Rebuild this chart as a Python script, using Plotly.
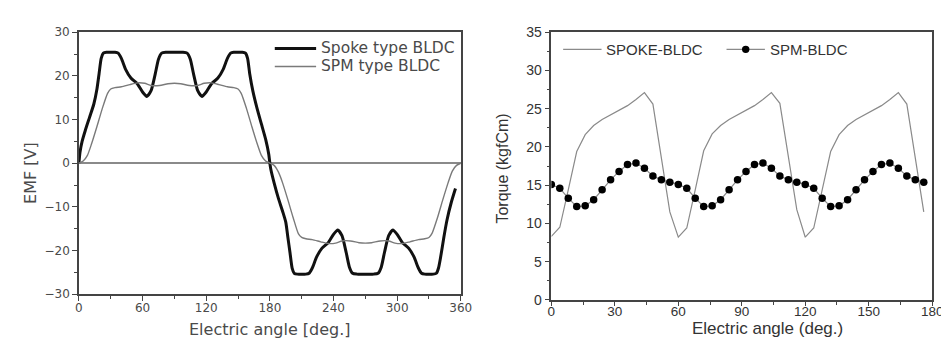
import plotly.graph_objects as go

# ---------------- Left chart: back EMF ----------------
spoke_angle = [0, 1, 3, 6, 10, 14, 17, 19, 21, 23, 26, 30, 34, 37, 40, 44, 49, 55, 60, 64,
               68, 72, 75, 78, 82, 86, 90, 94, 98, 102, 105, 108, 112, 116, 120, 125, 131,
               136, 140, 143, 146, 150, 154, 157, 159, 161, 164, 168, 172, 176, 179, 180,
               181, 184, 188, 192, 195, 197, 199, 201, 203, 206, 210, 214, 217, 220, 224,
               229, 235, 240, 244, 248, 252, 255, 258, 262, 266, 270, 274, 278, 282, 285,
               288, 292, 296, 300, 305, 311, 316, 320, 323, 326, 330, 334, 337, 339, 341,
               344, 347, 351, 355]
spoke_emf = [0, 2.5, 5.0, 7.5, 10.5, 13.5, 17.0, 20.5, 24.0, 25.2, 25.4, 25.4, 25.4, 25.2,
             24.0, 21.5, 19.5, 18.2, 16.3, 15.3, 16.6, 20.5, 23.8, 25.2, 25.4, 25.4, 25.4,
             25.4, 25.4, 25.2, 23.8, 20.5, 16.6, 15.3, 16.3, 18.2, 19.5, 21.5, 24.0, 25.2,
             25.4, 25.4, 25.4, 25.2, 24.0, 20.5, 16.5, 12.5, 9.0, 5.5, 2.0, 0,
             -1.5, -4.5, -8.0, -11.0, -13.5, -17.0, -20.5, -24.0, -25.2, -25.4, -25.4,
             -25.4, -25.2, -24.0, -21.5, -19.5, -18.2, -16.3, -15.3, -16.6, -20.5, -23.8,
             -25.2, -25.4, -25.4, -25.4, -25.4, -25.4, -25.2, -23.8, -20.5, -16.6, -15.3,
             -16.3, -18.2, -19.5, -21.5, -24.0, -25.2, -25.4, -25.4, -25.4, -25.2, -24.0,
             -21.5, -17.0, -13.0, -9.0, -5.8]

spm_angle = [0, 4, 8, 12, 17, 22, 27, 30, 34, 40, 48, 55, 62, 68, 76, 84, 90, 96, 104, 112,
             118, 125, 132, 140, 146, 150, 153, 158, 163, 168, 172, 176, 180,
             184, 188, 192, 197, 202, 207, 210, 214, 220, 228, 235, 242, 248, 256, 264,
             270, 276, 284, 292, 298, 305, 312, 320, 326, 330, 333, 338, 343, 348, 352,
             356, 360]
spm_emf = [0, 0.5, 1.8, 4.5, 8.4, 12.5, 16.0, 17.0, 17.3, 17.5, 18.0, 18.4, 18.3, 17.8,
           17.8, 18.2, 18.3, 18.2, 17.8, 17.8, 18.3, 18.4, 18.0, 17.5, 17.3, 17.0, 16.0,
           12.5, 8.4, 4.5, 1.8, 0.5, 0,
           -0.5, -2.0, -4.5, -8.4, -12.5, -16.2, -17.0, -17.3, -17.5, -18.0, -18.4, -18.3,
           -17.8, -17.8, -18.2, -18.3, -18.2, -17.8, -17.8, -18.3, -18.4, -18.0, -17.5,
           -17.3, -17.0, -16.0, -12.5, -8.4, -4.5, -1.8, -0.5, 0]

# ---------------- Right chart: torque ----------------
torque_angle = [0, 4, 8, 12, 16, 20, 24, 28, 32, 36, 40, 44, 48, 52, 56,
                60, 64, 68, 72, 76, 80, 84, 88, 92, 96, 100, 104, 108, 112, 116,
                120, 124, 128, 132, 136, 140, 144, 148, 152, 156, 160, 164, 168, 172, 176]
spoke_torque = [8.3, 9.5, 14.4, 19.4, 21.6, 22.8, 23.6, 24.2, 24.8, 25.4, 26.2, 27.1, 25.6, 18.5, 11.5,
                8.2, 9.4, 14.4, 19.5, 21.7, 22.8, 23.6, 24.2, 24.8, 25.4, 26.2, 27.1, 25.7, 18.6, 11.8,
                8.2, 9.4, 14.4, 19.4, 21.6, 22.8, 23.6, 24.2, 24.8, 25.4, 26.2, 27.1, 25.6, 18.5, 11.5]
spm_torque = [15.1, 14.6, 13.3, 12.2, 12.3, 13.1, 14.4, 15.7, 16.8, 17.7, 17.9, 17.2, 16.2, 15.7, 15.4,
              15.1, 14.6, 13.3, 12.2, 12.3, 13.1, 14.4, 15.7, 16.8, 17.7, 17.9, 17.2, 16.2, 15.7, 15.4,
              15.1, 14.6, 13.3, 12.2, 12.3, 13.1, 14.4, 15.7, 16.8, 17.7, 17.9, 17.2, 16.2, 15.7, 15.4]

series_names = ["Spoke type BLDC", "SPM type BLDC", "SPOKE-BLDC", "SPM-BLDC"]

FONT_L = "DejaVu Sans, sans-serif"
FONT_R = "Liberation Sans, Arial, sans-serif"
TXT_L = "#4a4a4a"
TXT_R = "#333333"
AX = "#444444"
W, H = 949, 339

SPOKE_L = dict(color="#111111", width=3)
SPM_L = dict(color="#7a7a7a", width=1.4)
SPOKE_R = dict(color="#8a8a8a", width=1.2)
SPM_R = dict(color="#8a8a8a", width=1.2)


def px_x(p):
    return p / W


def px_y(p):
    return 1 - p / H


fig = go.Figure()
fig.add_trace(go.Scatter(x=spoke_angle, y=spoke_emf, mode="lines", name=series_names[0],
                         line=dict(**SPOKE_L, shape="spline", smoothing=0.6),
                         xaxis="x", yaxis="y"))
fig.add_trace(go.Scatter(x=spm_angle, y=spm_emf, mode="lines", name=series_names[1],
                         line=dict(**SPM_L, shape="spline", smoothing=0.6),
                         xaxis="x", yaxis="y"))
fig.add_trace(go.Scatter(x=torque_angle, y=spoke_torque, mode="lines", name=series_names[2],
                         line=SPOKE_R, xaxis="x2", yaxis="y2"))
fig.add_trace(go.Scatter(x=torque_angle, y=spm_torque, mode="lines+markers", name=series_names[3],
                         line=SPM_R, marker=dict(color="#000000", size=7.5),
                         xaxis="x2", yaxis="y2"))


def axis(font, color, size, **kw):
    base = dict(showline=True, linecolor=AX, linewidth=1.5, mirror=True,
                ticks="outside", ticklen=5, tickwidth=1.2, tickcolor=AX,
                showgrid=False, zeroline=False,
                tickfont=dict(family=font, size=size, color=color),
                minor=dict(ticks="outside", ticklen=3, tickcolor=AX, tickwidth=1))
    base.update(kw)
    return base


# ---- legends drawn as line samples + labels (paper coordinates) ----
shapes = []
annotations = []


def legend_entry(x0, x1, y, line, text, font, size, color, marker=False):
    shapes.append(dict(type="line", xref="paper", yref="paper",
                       x0=px_x(x0), x1=px_x(x1), y0=px_y(y), y1=px_y(y), line=line))
    if marker:
        cx = (x0 + x1) / 2
        shapes.append(dict(type="circle", xref="paper", yref="paper",
                           x0=px_x(cx - 3.8), x1=px_x(cx + 3.8),
                           y0=px_y(y + 3.8), y1=px_y(y - 3.8),
                           fillcolor="#000000", line=dict(color="#000000", width=0)))
    annotations.append(dict(text=text, x=px_x(x1 + 3), y=px_y(y), xref="paper", yref="paper",
                            xanchor="left", yanchor="middle", showarrow=False,
                            font=dict(family=font, size=size, color=color)))


legend_entry(267, 309, 34, SPOKE_L, series_names[0], FONT_L, 15.5, TXT_L)
legend_entry(267, 309, 53, SPM_L, series_names[1], FONT_L, 15.5, TXT_L)
legend_entry(560, 599, 35, SPOKE_R, series_names[2], FONT_R, 15, TXT_R)
legend_entry(726, 765, 35, SPM_R, series_names[3], FONT_R, 15, TXT_R, marker=True)

annotations += [
    dict(text="Electric angle [deg.]", x=px_x(262), y=px_y(329), xref="paper", yref="paper",
         xanchor="center", yanchor="middle", showarrow=False,
         font=dict(family=FONT_L, size=16, color=TXT_L)),
    dict(text="EMF [V]", x=px_x(18), y=px_y(165), xref="paper", yref="paper",
         xanchor="center", yanchor="middle", showarrow=False, textangle=-90,
         font=dict(family=FONT_L, size=16, color=TXT_L)),
    dict(text="Electric angle (deg.)", x=px_x(768), y=px_y(328), xref="paper", yref="paper",
         xanchor="center", yanchor="middle", showarrow=False,
         font=dict(family=FONT_R, size=17, color=TXT_R)),
    dict(text="Torque (kgfCm)", x=px_x(498), y=px_y(160), xref="paper", yref="paper",
         xanchor="center", yanchor="middle", showarrow=False, textangle=-90,
         font=dict(family=FONT_R, size=16, color=TXT_R)),
]

fig.update_layout(
    width=W, height=H,
    margin=dict(l=0, r=0, t=0, b=0),
    paper_bgcolor="white", plot_bgcolor="white",
    showlegend=False,
    xaxis=axis(FONT_L, TXT_L, 12, domain=[px_x(68), px_x(456)], range=[0, 360], dtick=60,
               tick0=0, minor_dtick=30, ticklabelstandoff=-3, anchor="y"),
    yaxis=axis(FONT_L, TXT_L, 12, domain=[px_y(292), px_y(17)], range=[-30, 30], dtick=10,
               minor_dtick=5, zeroline=True, zerolinecolor="#8a8a8a", zerolinewidth=1.5,
               anchor="x"),
    xaxis2=axis(FONT_R, TXT_R, 13.5, domain=[px_x(548), px_x(935)], range=[0, 180], dtick=30,
                tick0=0, minor_dtick=15, ticklen=4, ticklabelstandoff=-6, anchor="y2"),
    yaxis2=axis(FONT_R, TXT_R, 14, domain=[px_y(298), px_y(17)], range=[0, 35], dtick=5,
                minor_dtick=2.5, anchor="x2"),
    shapes=shapes,
    annotations=annotations,
)

fig.write_html("out.html")
